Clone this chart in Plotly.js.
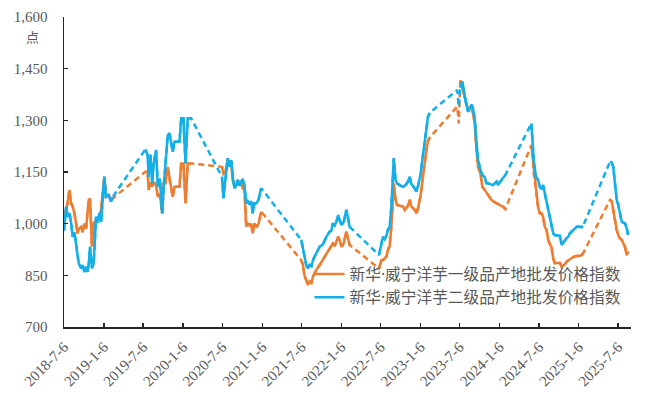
<!DOCTYPE html>
<html>
<head>
<meta charset="utf-8">
<script src="https://cdn.plot.ly/plotly-3.0.1.min.js"></script>
<style>
html,body{margin:0;padding:0;background:#fff;}
#chart{width:650px;height:399px;}
</style>
</head>
<body>
<div id="chart"></div>
<script>
// Dates of the index readings (null rows mark periods with no data)
const dates = [
"2018-07-06","2018-07-16","2018-07-23","2018-07-31","2018-08-08","2018-08-15","2018-08-23","2018-08-31",
"2018-09-06","2018-09-12","2018-09-23","2018-09-30","2018-10-08","2018-10-16","2018-10-23","2018-10-28",
"2018-11-03","2018-11-12","2018-11-20","2018-12-01","2018-12-08","2018-12-16","2018-12-24","2018-12-31",
"2019-01-08","2019-01-16","2019-01-28","2019-02-08","2019-02-16","2019-05-01",
"2019-07-17","2019-07-27","2019-08-01","2019-08-09","2019-08-17","2019-08-24","2019-09-04","2019-09-12",
"2019-09-22","2019-10-02","2019-10-09","2019-10-17","2019-10-28","2019-11-05","2019-11-12","2019-11-20",
"2019-11-28","2019-12-21","2019-12-29","2020-01-08","2020-01-18","2020-01-28","2020-02-13","2020-05-01",
"2020-07-04","2020-07-11","2020-07-20","2020-07-31","2020-08-08","2020-08-16","2020-08-23","2020-08-31",
"2020-09-08","2020-09-15","2020-09-23","2020-10-01","2020-10-08","2020-10-16","2020-10-24","2020-10-31",
"2020-11-08","2020-11-16","2020-11-23","2020-12-01","2020-12-11","2020-12-20","2021-01-01","2021-04-01",
"2021-07-05","2021-07-13","2021-07-20","2021-07-28","2021-08-05","2021-08-13","2021-08-21","2021-08-28",
"2021-09-12","2021-09-28","2021-10-13","2021-10-29","2021-11-13","2021-11-21","2021-11-28","2021-12-06",
"2021-12-14","2021-12-23","2021-12-29","2022-01-07","2022-01-17","2022-01-29","2022-02-05","2022-02-13",
"2022-04-15",
"2022-06-29","2022-07-10","2022-07-17","2022-07-25","2022-08-02","2022-08-09","2022-08-17","2022-08-25",
"2022-09-05","2022-09-13","2022-09-20","2022-10-02","2022-10-18","2022-10-26","2022-11-08","2022-11-18",
"2022-11-25","2022-12-03","2022-12-11","2022-12-19","2022-12-26","2023-01-06","2023-01-15","2023-01-26",
"2023-02-03","2023-02-10","2023-02-18","2023-05-01",
"2023-06-25","2023-06-28","2023-07-02","2023-07-05",
"2023-07-09","2023-07-19","2023-07-30","2023-08-07","2023-08-14","2023-08-22","2023-08-30","2023-09-06",
"2023-09-14","2023-09-22","2023-09-29","2023-10-10","2023-10-19","2023-10-30","2023-11-07","2023-11-14",
"2023-11-30","2023-12-07","2023-12-23","2023-12-30","2024-01-07","2024-01-23","2024-02-02","2024-04-01",
"2024-06-01","2024-06-06","2024-06-12","2024-06-22","2024-07-02","2024-07-10","2024-07-18","2024-07-25",
"2024-08-02","2024-08-10","2024-08-18","2024-08-26","2024-09-02","2024-09-10","2024-09-17","2024-09-25",
"2024-10-03","2024-10-11","2024-10-19","2024-10-26","2024-11-03","2024-11-11","2024-11-18","2024-11-26",
"2024-12-04","2024-12-11","2024-12-19","2024-12-27","2025-01-11","2025-01-19","2025-01-26","2025-04-01",
"2025-05-30","2025-06-07","2025-06-14","2025-06-22","2025-06-30","2025-07-07","2025-07-12","2025-07-23",
"2025-07-30","2025-08-07","2025-08-15","2025-08-22"
];

// 新华·威宁洋芋一级品产地批发价格指数
const grade1 = [
1020,1045,1060,1098,1059,1050,1030,1001,
972,985,991,975,1000,985,1040,1069,
1073,933,1001,1010,1015,1020,1040,1090,
1136,1078,1083,1069,1073,null,
1151,1151,1098,1120,1107,1120,1112,1078,
1085,1030,1117,1117,1165,1127,1107,1078,
1107,1107,1175,1175,1059,1175,1175,null,
1165,1145,1150,1185,1175,1180,1127,1112,
1115,1127,1112,1125,1103,1100,991,1000,
995,1000,972,1001,990,1000,1035,null,
894,880,850,832,822,832,828,846,
865,880,895,914,928,935,943,935,
950,962,952,933,943,977,960,938,
null,
870,894,894,900,904,923,935,991,
1117,1070,1054,1052,1050,1040,1050,1069,
1050,1045,1040,1030,1045,1078,1127,1185,
1215,1240,1250,null,
1340,null,1291,null,
1417,1393,1364,1340,1330,1335,1333,1320,
1291,1214,1165,1146,1107,1098,1090,1083,
1069,1065,1059,1056,1054,1049,1042,null,
1228,1199,1146,1098,1049,1030,1030,1020,
991,982,953,940,933,899,885,886,
885,886,875,878,882,890,893,896,
902,903,905,906,909,908,914,null,
1069,1065,1040,1006,982,967,960,953,
943,933,909,919
];

// 新华·威宁洋芋二级品产地批发价格指数
const grade2 = [
980,1049,1020,1031,1002,962,975,933,
910,885,871,880,860,875,860,880,
933,871,885,1020,1002,1031,1005,1078,
1136,1078,1083,1064,1078,null,
1216,1199,1136,1201,1117,1175,1214,1107,
1130,1030,1107,1165,1257,1262,1238,1209,
1238,1238,1306,1306,1175,1306,1306,null,
1136,1074,1130,1190,1165,1185,1136,1103,
1110,1125,1110,1122,1130,1110,1059,1065,
1055,1065,1030,1059,1059,1070,1103,null,
953,930,900,880,870,880,877,894,
914,933,940,962,977,980,1001,995,
1005,1025,1010,996,1005,1040,1020,991,
null,
909,943,962,955,965,982,990,1049,
1190,1127,1117,1112,1107,1110,1120,1136,
1115,1110,1100,1093,1110,1140,1185,1233,
1272,1310,1322,null,
1388,null,1340,null,
1395,1412,1369,1340,1325,1335,1345,1335,
1301,1233,1185,1156,1141,1135,1117,1117,
1115,1112,1122,1112,1120,1131,1141,null,
1291,1243,1185,1136,1127,1107,1100,1112,
1088,1073,1049,1025,1001,972,967,967,
966,965,938,945,953,958,962,972,
977,982,986,991,991,990,993,null,
1180,1178,1165,1117,1069,1055,1040,1006,
1003,1001,987,967
];

const seriesNames = ["新华·威宁洋芋一级品产地批发价格指数", "新华·威宁洋芋二级品产地批发价格指数"];
const tickDates = ["2018-07-06","2019-01-06","2019-07-06","2020-01-06","2020-07-06","2021-01-06","2021-07-06",
  "2022-01-06","2022-07-06","2023-01-06","2023-07-06","2024-01-06","2024-07-06","2025-01-06","2025-07-06"];
const tickLabels = ["2018-7-6","2019-1-6","2019-7-6","2020-1-6","2020-7-6","2021-1-6","2021-7-6",
  "2022-1-6","2022-7-6","2023-1-6","2023-7-6","2024-1-6","2024-7-6","2025-1-6","2025-7-6"];
const yTicks = [700, 850, 1000, 1150, 1300, 1450, 1600];

const ORANGE = "#ED7D31", BLUE = "#14AFE8";
const LW = 2.5;

function pair(values, name, color) {
  return [
    { x: dates, y: values, type: "scatter", mode: "lines", connectgaps: true,
      line: { color: color, width: LW, dash: "6px,4px" }, showlegend: false, hoverinfo: "skip" },
    { x: dates, y: values, type: "scatter", mode: "lines", connectgaps: false, name: name,
      line: { color: color, width: LW } }
  ];
}

const data = [].concat(pair(grade1, seriesNames[0], ORANGE), pair(grade2, seriesNames[1], BLUE));

const SERIF = "'Liberation Serif', 'Times New Roman', serif";

const layout = {
  width: 650, height: 399,
  margin: { l: 64, r: 19, t: 17, b: 72 },
  paper_bgcolor: "#fff", plot_bgcolor: "#fff",
  showlegend: true,
  legend: {
    x: 0.433, xanchor: "left", y: 0.225, yanchor: "top",
    bgcolor: "rgba(0,0,0,0)", borderwidth: 0,
    font: { family: "'Noto Sans', 'Noto Sans CJK SC', sans-serif", size: 15.7, color: "#595959" },
    tracegroupgap: 0
  },
  xaxis: {
    type: "date",
    range: ["2018-07-06", "2025-09-04"],
    tickmode: "array", tickvals: tickDates, ticktext: tickLabels,
    tickangle: -45,
    tickfont: { family: SERIF, size: 15, color: "#595959" },
    ticks: "inside", ticklen: 4, tickwidth: 1.3, tickcolor: "#262626",
    ticklabelstandoff: 4,
    showline: true, linecolor: "#262626", linewidth: 1.5,
    showgrid: false, zeroline: false, fixedrange: true
  },
  yaxis: {
    range: [700, 1600],
    tickmode: "array", tickvals: yTicks,
    tickformat: ",d",
    tickfont: { family: SERIF, size: 15, color: "#595959" },
    ticks: "inside", ticklen: 4, tickwidth: 1.3, tickcolor: "#262626",
    ticklabelstandoff: 12,
    showline: true, linecolor: "#262626", linewidth: 1.5,
    showgrid: false, zeroline: false, fixedrange: true
  },
  annotations: [{
    text: "点", xref: "paper", yref: "paper", x: -0.055, y: 0.937,
    xanchor: "center", yanchor: "middle", showarrow: false,
    font: { family: "'Noto Sans CJK SC', sans-serif", size: 13, color: "#595959" }
  }]
};

Plotly.newPlot("chart", data, layout, { staticPlot: true, displayModeBar: false });
</script>
</body>
</html>
